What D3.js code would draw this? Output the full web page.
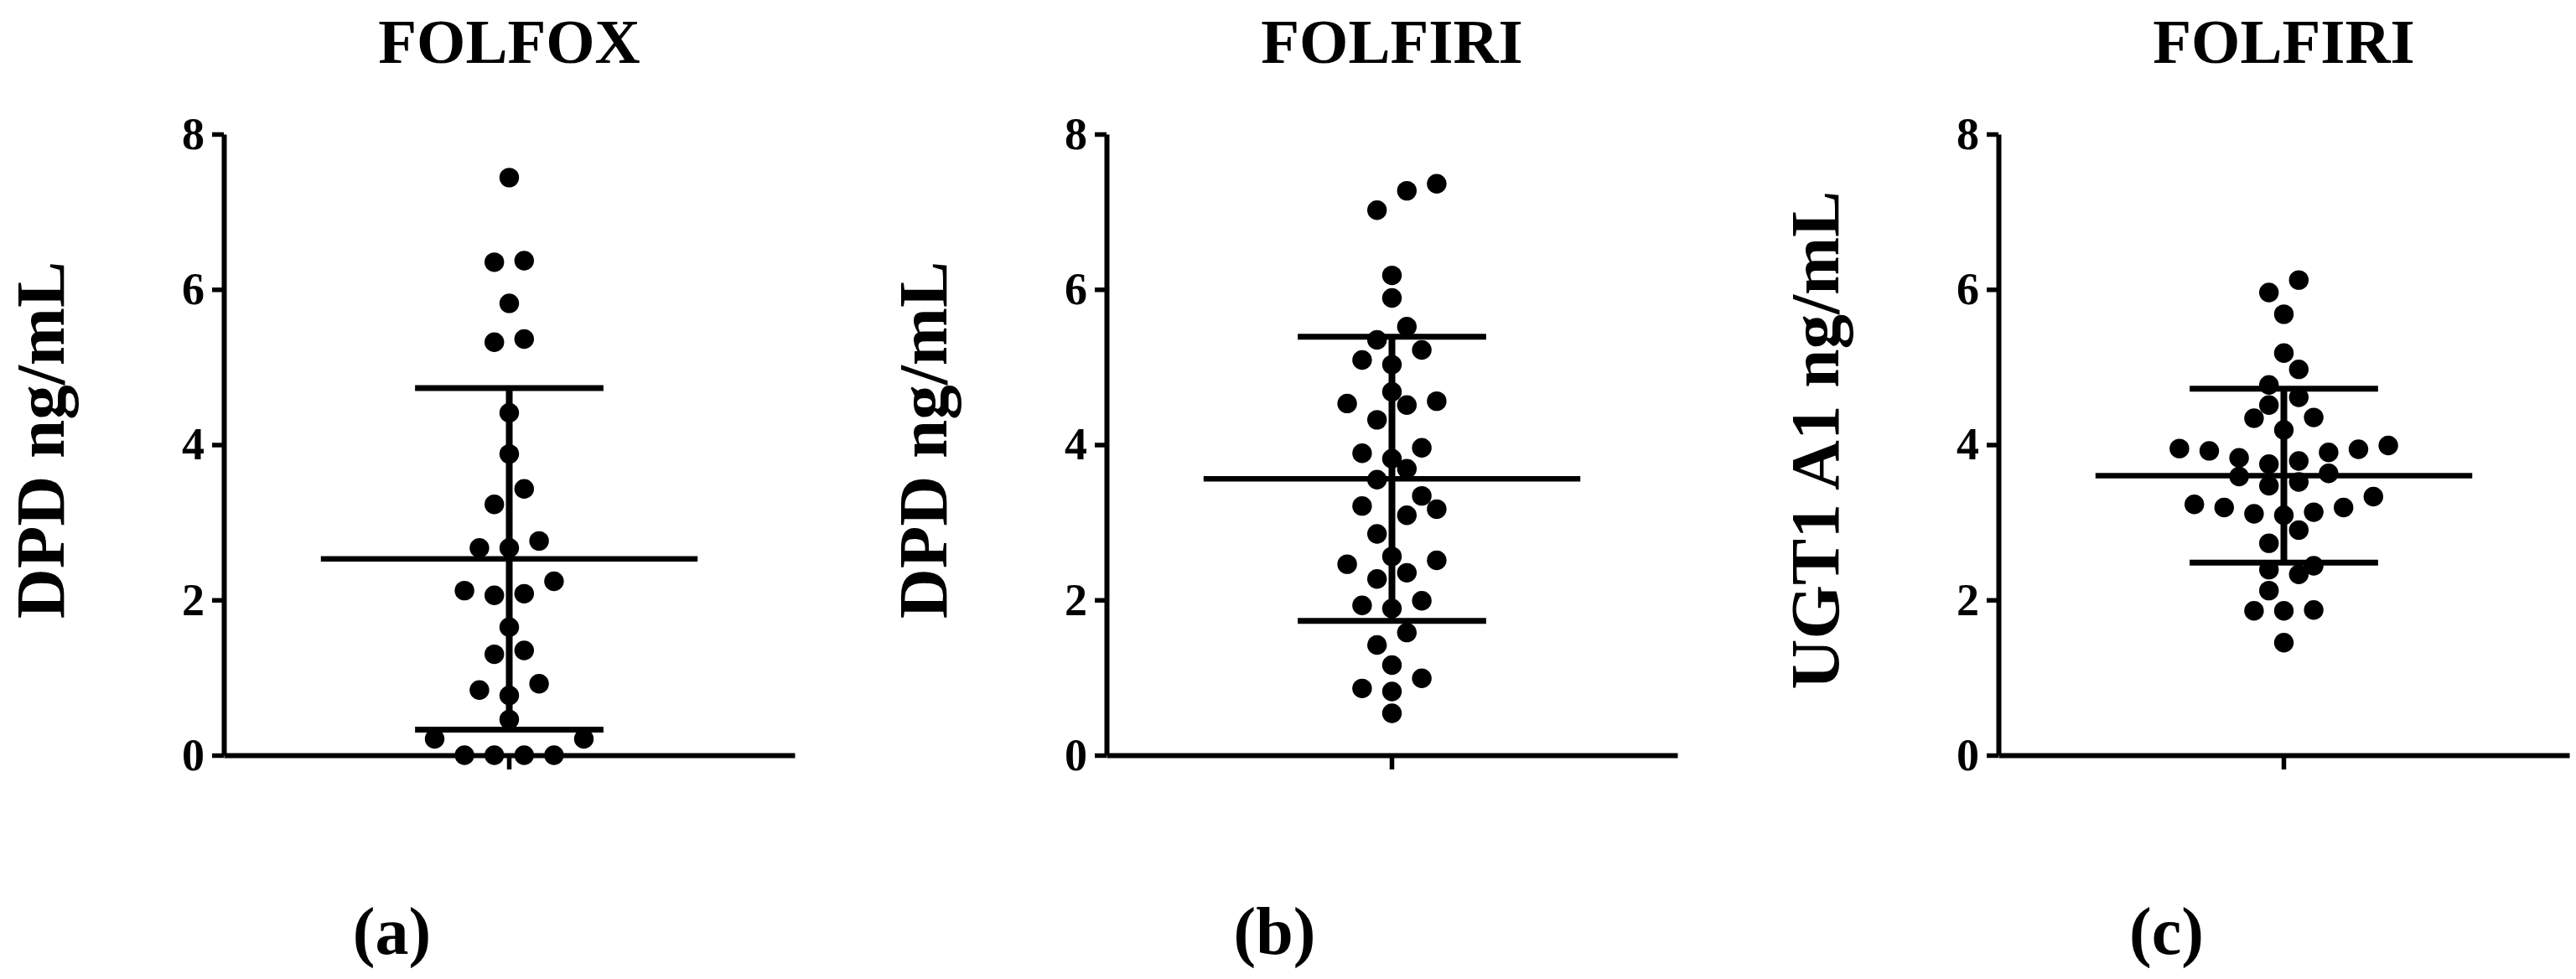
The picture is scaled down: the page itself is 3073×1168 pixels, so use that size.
<!doctype html>
<html>
<head>
<meta charset="utf-8">
<script src="https://cdn.jsdelivr.net/npm/d3@7"></script>
<style>
  body { margin: 0; background: #fff; }
  svg { display: block; }
  text { font-family: "Liberation Serif", "Times New Roman", serif; font-weight: bold; fill: #000; }
</style>
</head>
<body>
<svg id="chart" width="3073" height="1168"></svg>
<script>
  // values (ng/mL)
  var folfoxDpd = [7.44, 6.37, 6.35, 5.82, 5.36, 5.32, 4.41, 3.88, 3.43, 3.23,
    2.76, 2.67, 2.67, 2.24, 2.12, 2.08, 2.06, 1.65, 1.35, 1.30,
    0.92, 0.84, 0.77, 0.46, 0.21, 0.21, 0, 0, 0, 0];
  var folfiriDpd = [7.36, 7.27, 7.02, 6.18, 5.89, 5.52, 5.35, 5.22, 5.09, 5.03,
    4.68, 4.56, 4.53, 4.51, 4.32, 3.96, 3.89, 3.82, 3.69, 3.55,
    3.34, 3.21, 3.17, 3.09, 2.85, 2.56, 2.51, 2.46, 2.35, 2.27,
    1.99, 1.93, 1.89, 1.58, 1.42, 1.16, 0.99, 0.86, 0.82, 0.54];
  var folfiriUgt = [6.12, 5.96, 5.68, 5.18, 4.97, 4.77, 4.61, 4.51, 4.35, 4.34,
    4.19, 3.99, 3.95, 3.94, 3.92, 3.90, 3.83, 3.79, 3.75, 3.63,
    3.59, 3.52, 3.47, 3.33, 3.23, 3.19, 3.19, 3.13, 3.11, 3.09,
    2.90, 2.73, 2.44, 2.39, 2.33, 2.12, 1.87, 1.86, 1.86, 1.45];

  var meanValues = [2.53, 3.56, 3.60];
  var sdValues = [2.20, 1.83, 1.12];

  var panelTitles = ['FOLFOX', 'FOLFIRI', 'FOLFIRI'];
  var yAxisTitles = ['DPD ng/mL', 'DPD ng/mL', 'UGT1 A1 ng/mL'];
  var panelLetters = ['(a)', '(b)', '(c)'];
  var yTicks = [0, 2, 4, 6, 8];
  var series = [folfoxDpd, folfiriDpd, folfiriUgt];

  var panelLeft = [267, 1320, 2384];
  var axisWidth = 681;
  var r = 11.7;

  var svg = d3.select('#chart');
  svg.append('rect').attr('width', 3073).attr('height', 1168).attr('fill', '#fff');

  var y = d3.scaleLinear().domain([0, 8]).range([901, 160]);

  // Prism-like spread: group close values into rows, center each row,
  // then push points outward if they sit on top of an earlier one
  function spread(values, cx) {
    var d = 2 * r, h = 17.8, minD = 0.85 * d;
    var sorted = values.map(function (v) { return { v: v }; })
      .sort(function (a, b) { return a.v - b.v; });
    var rows = [];
    sorted.forEach(function (p) {
      var row = rows[rows.length - 1];
      if (row && y(row[0].v) - y(p.v) < d) row.push(p);
      else rows.push([p]);
    });
    var placed = [];
    rows.forEach(function (row) {
      var n = row.length;
      row.forEach(function (p, k) {
        var slot;
        if (n % 2) slot = k === 0 ? 0 : (k % 2 ? -1 : 1) * 2 * Math.ceil(k / 2);
        else slot = (k % 2 ? 1 : -1) * (2 * Math.floor(k / 2) + 1);
        var off = slot * h;
        var dir = off < 0 ? -1 : (off > 0 ? 1 : (placed.length % 2 ? 1 : -1));
        var py = y(p.v);
        var hit = function (o) {
          return placed.some(function (q) {
            return Math.hypot(q.x - (cx + o), q.y - py) < minD;
          });
        };
        while (hit(off)) off += dir * h;
        placed.push({ v: p.v, x: cx + off, y: py });
      });
    });
    return placed;
  }

  series.forEach(function (values, i) {
    var left = panelLeft[i];
    var x = d3.scaleBand().domain([panelTitles[i]]).range([left, left + axisWidth]);
    var cx = x(panelTitles[i]) + x.bandwidth() / 2;
    var g = svg.append('g');

    // axes
    var yAxis = g.append('g')
      .attr('transform', 'translate(' + left + ',0)')
      .call(d3.axisLeft(y).tickValues(yTicks).tickSize(14).tickSizeOuter(0).tickPadding(9));
    var xAxis = g.append('g')
      .attr('transform', 'translate(0,' + y(0) + ')')
      .call(d3.axisBottom(x).tickSize(17).tickSizeOuter(0).tickFormat(function () { return ''; }));
    [yAxis, xAxis].forEach(function (a) {
      a.select('.domain').attr('stroke', '#000').attr('stroke-width', 6);
      a.selectAll('.tick line').attr('stroke', '#000').attr('stroke-width', 5.5);
    });
    yAxis.selectAll('.tick text')
      .attr('font-size', 54)
      .attr('font-family', '"Liberation Serif", "Times New Roman", serif')
      .attr('font-weight', 'bold')
      .attr('fill', '#000');

    // mean and SD
    var m = meanValues[i], sd = sdValues[i];
    var half = axisWidth * 0.33, capHalf = axisWidth * 0.165;
    g.append('line')
      .attr('x1', cx).attr('x2', cx)
      .attr('y1', y(m - sd)).attr('y2', y(m + sd))
      .attr('stroke', '#000').attr('stroke-width', 8);
    [m - sd, m + sd].forEach(function (v) {
      g.append('line')
        .attr('x1', cx - capHalf).attr('x2', cx + capHalf)
        .attr('y1', y(v)).attr('y2', y(v))
        .attr('stroke', '#000').attr('stroke-width', 7);
    });
    g.append('line')
      .attr('x1', cx - half).attr('x2', cx + half)
      .attr('y1', y(m)).attr('y2', y(m))
      .attr('stroke', '#000').attr('stroke-width', 6.5);

    // points
    g.append('g').selectAll('circle')
      .data(spread(values, cx))
      .join('circle')
      .attr('cx', function (d) { return d.x; })
      .attr('cy', function (d) { return d.y; })
      .attr('r', r)
      .attr('fill', '#000');

    // texts
    g.append('text')
      .attr('x', cx).attr('y', 75)
      .attr('text-anchor', 'middle')
      .attr('font-size', 75)
      .text(panelTitles[i]);
    g.append('text')
      .attr('transform', 'translate(' + (left - 191) + ',525) rotate(-90)')
      .attr('text-anchor', 'middle')
      .attr('font-size', 83)
      .text(yAxisTitles[i]);
    g.append('text')
      .attr('x', cx - 140).attr('y', 1138)
      .attr('text-anchor', 'middle')
      .attr('font-size', 80)
      .text(panelLetters[i]);
  });
</script>
</body>
</html>
